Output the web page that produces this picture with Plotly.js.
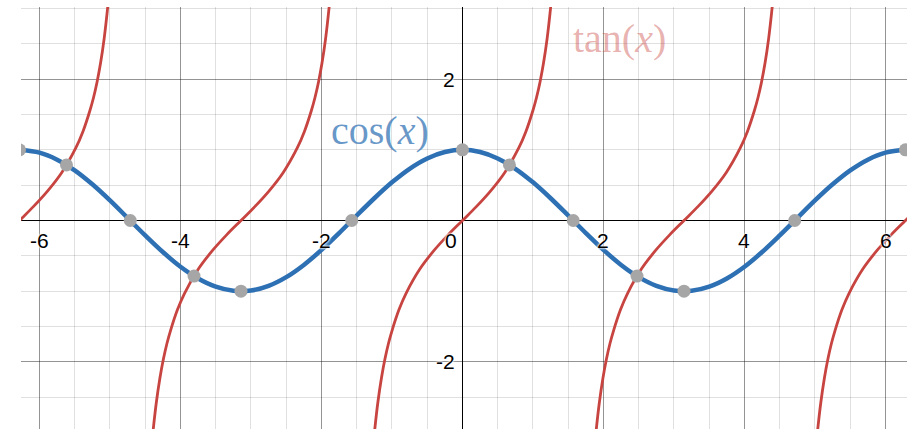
<!DOCTYPE html>
<html>
<head>
<meta charset="utf-8">
<script src="https://cdn.plot.ly/plotly-3.0.1.min.js"></script>
<style>html,body{margin:0;padding:0;background:#fff;}#chart{width:917px;height:429px;}</style>
</head>
<body>
<div id="chart"></div>
<script>
// cos(x) curve samples
const cosX = [-6.3, -6.0, -5.75, -5.5, -5.25, -5.0, -4.75, -4.5, -4.25, -4.0, -3.75, -3.5, -3.25, -3.0, -2.75, -2.5, -2.25, -2.0, -1.75, -1.5, -1.25, -1.0, -0.75, -0.5, -0.25, 0,
              0.25, 0.5, 0.75, 1.0, 1.25, 1.5, 1.75, 2.0, 2.25, 2.5, 2.75, 3.0, 3.25, 3.5, 3.75, 4.0, 4.25, 4.5, 4.75, 5.0, 5.25, 5.5, 5.75, 6.0, 6.3];
const cosY = [1.00, 0.96, 0.861, 0.709, 0.512, 0.284, 0.037, -0.211, -0.446, -0.654, -0.820, -0.936, -0.994, -0.990, -0.924, -0.801, -0.628, -0.416, -0.178, 0.071, 0.315, 0.540, 0.732, 0.878, 0.969, 1.00,
              0.969, 0.878, 0.732, 0.540, 0.315, 0.071, -0.178, -0.416, -0.628, -0.801, -0.924, -0.990, -0.994, -0.936, -0.820, -0.654, -0.446, -0.211, 0.037, 0.284, 0.512, 0.709, 0.861, 0.96, 1.00];

// tan(x) branches (null separates branches)
const tanX = [
  -6.483, -6.283, -6.083, -5.883, -5.683, -5.483, -5.383, -5.283, -5.233, -5.183, -5.133, -5.083, -5.033, -5.003, null,
  -4.422, -4.392, -4.342, -4.292, -4.242, -4.192, -4.142, -4.042, -3.942, -3.742, -3.542, -3.342, -3.142, -2.942, -2.742, -2.542, -2.342, -2.242, -2.142, -2.092, -2.042, -1.992, -1.942, -1.892, -1.862, null,
  -1.28, -1.25, -1.2, -1.15, -1.1, -1.05, -1.0, -0.9, -0.8, -0.6, -0.4, -0.2, 0, 0.2, 0.4, 0.6, 0.8, 0.9, 1.0, 1.05, 1.1, 1.15, 1.2, 1.25, 1.28, null,
  1.862, 1.892, 1.942, 1.992, 2.042, 2.092, 2.142, 2.242, 2.342, 2.542, 2.742, 2.942, 3.142, 3.342, 3.542, 3.742, 3.942, 4.042, 4.142, 4.192, 4.242, 4.292, 4.342, 4.392, 4.422, null,
  5.003, 5.033, 5.083, 5.133, 5.183, 5.233, 5.283, 5.383, 5.483, 5.683, 5.883, 6.083, 6.283, 6.483
];
const tanY = [
  -0.20, 0, 0.20, 0.42, 0.68, 1.03, 1.26, 1.56, 1.74, 1.96, 2.23, 2.57, 3.01, 3.34, null,
  -3.34, -3.01, -2.57, -2.23, -1.96, -1.74, -1.56, -1.26, -1.03, -0.68, -0.42, -0.20, 0, 0.20, 0.42, 0.68, 1.03, 1.26, 1.56, 1.74, 1.96, 2.23, 2.57, 3.01, 3.34, null,
  -3.34, -3.01, -2.57, -2.23, -1.96, -1.74, -1.56, -1.26, -1.03, -0.68, -0.42, -0.20, 0, 0.20, 0.42, 0.68, 1.03, 1.26, 1.56, 1.74, 1.96, 2.23, 2.57, 3.01, 3.34, null,
  -3.34, -3.01, -2.57, -2.23, -1.96, -1.74, -1.56, -1.26, -1.03, -0.68, -0.42, -0.20, 0, 0.20, 0.42, 0.68, 1.03, 1.26, 1.56, 1.74, 1.96, 2.23, 2.57, 3.01, 3.34, null,
  -3.34, -3.01, -2.57, -2.23, -1.96, -1.74, -1.56, -1.26, -1.03, -0.68, -0.42, -0.20, 0, 0.20
];

// highlighted points on cos(x)
const ptX = [-6.283, -5.617, -4.712, -3.808, -3.142, -1.571, 0, 0.666, 1.571, 2.475, 3.142, 4.712, 6.283];
const ptY = [1, 0.786, 0, -0.786, -1, 0, 1, 0.786, 0, -0.786, -1, 0, 1];

// tick labels
const xTickVals = [-6, -4, -2, 2, 4, 6];
const xTickText = ['-6', '-4', '-2', '2', '4', '6'];
const yTickVals = [2, -2];
const yTickText = ['2', '-2'];

// curve labels
const curveLabels = [
  {text: 'cos(<i>x</i>)', x: -1.17, y: 1.27, color: 'rgba(45,112,179,0.72)'},
  {text: 'tan(<i>x</i>)', x: 2.22, y: 2.58, color: 'rgba(199,68,64,0.42)'}
];

const halo = '0 0 2px #fff, 0 0 2px #fff, 0 0 3px #fff';
const tickFont = {family: 'Liberation Sans, Arial, sans-serif', size: 21, color: '#000', shadow: halo};

const annotations = [];
xTickVals.forEach((v, i) => annotations.push({x: v, y: 0, xref: 'x', yref: 'y', text: xTickText[i], showarrow: false,
  xanchor: 'center', yanchor: 'middle', yshift: -20, font: tickFont}));
yTickVals.forEach((v, i) => annotations.push({x: 0, y: v, xref: 'x', yref: 'y', text: yTickText[i], showarrow: false,
  xanchor: 'right', yanchor: 'middle', xshift: -5, font: tickFont}));
annotations.push({x: 0, y: 0, xref: 'x', yref: 'y', text: '0', showarrow: false, xanchor: 'right', yanchor: 'middle',
  xshift: -3, yshift: -20, font: tickFont});
curveLabels.forEach(l => annotations.push({x: l.x, y: l.y, xref: 'x', yref: 'y', text: l.text, showarrow: false,
  xanchor: 'center', yanchor: 'middle', font: {family: 'Liberation Serif, Times New Roman, serif', size: 40, color: l.color}}));

const traces = [
  {x: tanX, y: tanY, type: 'scatter', mode: 'lines', line: {color: '#c74440', width: 2.8, shape: 'spline', smoothing: 1}, connectgaps: false, hoverinfo: 'skip'},
  {x: cosX, y: cosY, type: 'scatter', mode: 'lines', line: {color: '#2d70b3', width: 4.5, shape: 'spline', smoothing: 1}, hoverinfo: 'skip'},
  {x: ptX, y: ptY, type: 'scatter', mode: 'markers', marker: {color: '#a6a6a6', size: 13}, cliponaxis: true, hoverinfo: 'skip'}
];

const axisCommon = {
  showticklabels: false, ticks: '', showline: false,
  showgrid: true, gridcolor: 'rgba(0,0,0,0.42)', gridwidth: 1,
  zeroline: true, zerolinecolor: '#000', zerolinewidth: 1.5,
  minor: {dtick: 0.5, showgrid: true, gridcolor: 'rgba(0,0,0,0.12)', gridwidth: 1},
  fixedrange: true
};

const layout = {
  width: 917, height: 429,
  margin: {l: 21, r: 10, t: 7, b: 0, autoexpand: false},
  paper_bgcolor: '#fff', plot_bgcolor: '#fff',
  showlegend: false,
  xaxis: Object.assign({}, axisCommon, {range: [-6.262, 6.305], dtick: 2, tick0: 0}),
  yaxis: Object.assign({}, axisCommon, {range: [-2.949, 3.02], dtick: 2, tick0: 0}),
  annotations: annotations
};

Plotly.newPlot('chart', traces, layout, {displayModeBar: false, staticPlot: true});
</script>
</body>
</html>
